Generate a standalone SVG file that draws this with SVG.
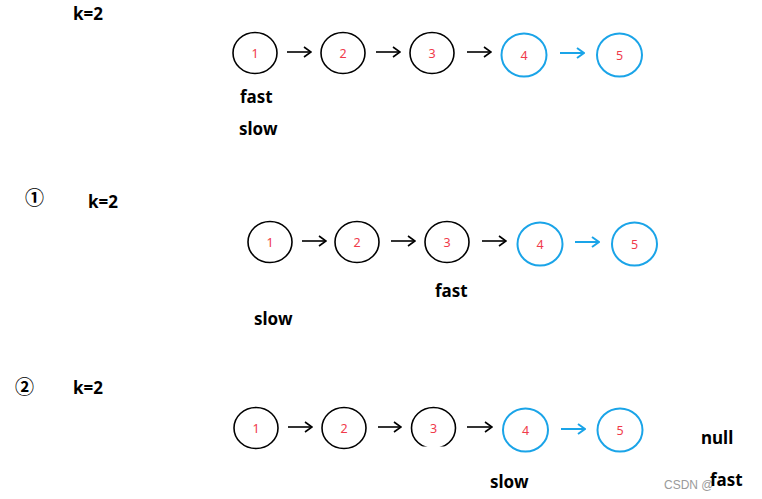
<svg xmlns="http://www.w3.org/2000/svg" width="762" height="499" viewBox="0 0 762 499">
<style>
.lbl{font-family:"Noto Sans","Liberation Sans",sans-serif;font-weight:bold;font-size:17px;fill:#000}
.num{font-family:"Noto Sans","Liberation Sans",sans-serif;font-size:12.5px;fill:#f03a4a;text-anchor:middle}
.cb{fill:none;stroke:#000;stroke-width:1.6}
.cl{fill:none;stroke:#1aa4e8;stroke-width:2}
.ab{fill:none;stroke:#000;stroke-width:1.6;marker-end:url(#hb)}
.al{fill:none;stroke:#1aa4e8;stroke-width:2;marker-end:url(#hl)}
.wm{font-family:"Liberation Sans","Noto Sans CJK SC",sans-serif;font-size:12px;fill:#9a9a9a}
.circ{font-family:"Noto Sans CJK SC",sans-serif;font-weight:bold;font-size:19px;fill:#000}
</style>
<defs>
<marker id="hb" viewBox="0 0 10 12" refX="9" refY="6" markerWidth="10" markerHeight="12" markerUnits="userSpaceOnUse" orient="auto"><path d="M2,1 L9,6 L2,11" fill="none" stroke="#000" stroke-width="1.6"/></marker>
<marker id="hl" viewBox="0 0 10 12" refX="9" refY="6" markerWidth="10" markerHeight="12" markerUnits="userSpaceOnUse" orient="auto"><path d="M2,1 L9,6 L2,11" fill="none" stroke="#1aa4e8" stroke-width="2"/></marker>
<clipPath id="cut3"><rect x="400" y="400" width="70" height="46.5"/></clipPath>
</defs>
<rect width="762" height="499" fill="#fff"/>

<text class="lbl" x="73" y="20">k=2</text>
<text class="lbl" x="240" y="103">fast</text>
<text class="lbl" x="239" y="135">slow</text>

<g id="r1n1"><ellipse class="cb" cx="255" cy="53" rx="22" ry="20.5"/><text class="num" x="255" y="58">1</text></g>
<g id="r1n2"><ellipse class="cb" cx="343" cy="53" rx="22" ry="20.5"/><text class="num" x="343" y="58">2</text></g>
<g id="r1n3"><ellipse class="cb" cx="432" cy="53" rx="22" ry="20.5"/><text class="num" x="432" y="58">3</text></g>
<g id="r1n4"><ellipse class="cl" cx="524" cy="55" rx="22.5" ry="21.5"/><text class="num" x="524" y="60">4</text></g>
<g id="r1n5"><ellipse class="cl" cx="619.5" cy="55" rx="22.5" ry="21.5"/><text class="num" x="619.5" y="60">5</text></g>

<text class="circ" x="25" y="205">①</text>
<text class="lbl" x="88" y="208">k=2</text>
<text class="lbl" x="435" y="297">fast</text>
<text class="lbl" x="254" y="325">slow</text>

<g id="r2n1"><ellipse class="cb" cx="270" cy="242" rx="22" ry="20.5"/><text class="num" x="270" y="247">1</text></g>
<g id="r2n2"><ellipse class="cb" cx="357" cy="242" rx="22" ry="20.5"/><text class="num" x="357" y="247">2</text></g>
<g id="r2n3"><ellipse class="cb" cx="447" cy="242" rx="22" ry="20.5"/><text class="num" x="447" y="247">3</text></g>
<g id="r2n4"><ellipse class="cl" cx="540" cy="244" rx="22.5" ry="21.5"/><text class="num" x="540" y="249">4</text></g>
<g id="r2n5"><ellipse class="cl" cx="634.5" cy="244" rx="22.5" ry="21.5"/><text class="num" x="634.5" y="249">5</text></g>

<text class="circ" x="15" y="394">②</text>
<text class="lbl" x="73" y="394">k=2</text>
<text class="lbl" x="701" y="444">null</text>
<text class="lbl" x="490" y="488">slow</text>

<g id="r3n1"><ellipse class="cb" cx="256" cy="428" rx="22" ry="20.5"/><text class="num" x="256" y="433">1</text></g>
<g id="r3n2"><ellipse class="cb" cx="344" cy="428" rx="22" ry="20.5"/><text class="num" x="344" y="433">2</text></g>
<g id="r3n3"><ellipse class="cb" cx="433.5" cy="428" rx="22" ry="20.5" clip-path="url(#cut3)"/><text class="num" x="433.5" y="433">3</text></g>
<g id="r3n4"><ellipse class="cl" cx="525.5" cy="430" rx="22.5" ry="21.5"/><text class="num" x="525.5" y="435">4</text></g>
<g id="r3n5"><ellipse class="cl" cx="620" cy="430" rx="22.5" ry="21.5"/><text class="num" x="620" y="435">5</text></g>

<g id="connectors">
<path class="ab" d="M287,52 H311"/>
<path class="ab" d="M376,52 H400"/>
<path class="ab" d="M467,52 H491"/>
<path class="al" d="M560,53 H584"/>
<path class="ab" d="M302,241 H326"/>
<path class="ab" d="M391,241 H415"/>
<path class="ab" d="M482,241 H506"/>
<path class="al" d="M575,242 H599"/>
<path class="ab" d="M288,427 H312"/>
<path class="ab" d="M378,427 H401"/>
<path class="ab" d="M467,427 H492"/>
<path class="al" d="M561,429 H585"/>
</g>

<text class="wm" x="664" y="489">CSDN @</text>
<text class="lbl" x="710" y="486">fast</text>
</svg>
